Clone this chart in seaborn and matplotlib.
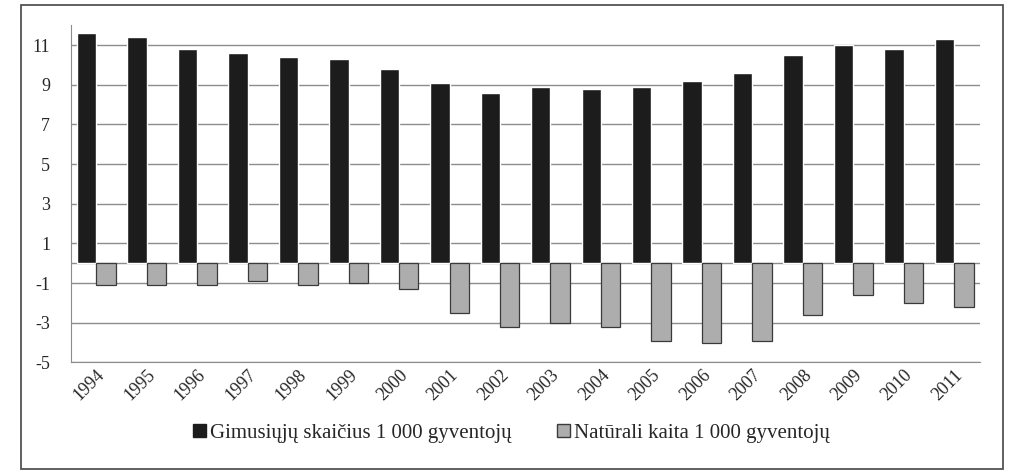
import pandas as pd
import matplotlib.pyplot as plt
import seaborn as sns
from matplotlib.patches import Rectangle, Patch

# Values (per 1 000 inhabitants)
years = [str(y) for y in range(1994, 2012)]
births = [11.6, 11.4, 10.8, 10.6, 10.4, 10.3, 9.8, 9.1, 8.6, 8.9, 8.8, 8.9, 9.2, 9.6, 10.5, 11.0, 10.8, 11.3]
natural_change = [-1.1, -1.1, -1.1, -0.9, -1.1, -1.0, -1.3, -2.5, -3.2, -3.0, -3.2, -3.9, -4.0, -3.9, -2.6, -1.6, -2.0, -2.2]
series_names = ["Gimusiųjų skaičius 1 000 gyventojų", "Natūrali kaita 1 000 gyventojų"]
y_ticks = [-5, -3, -1, 1, 3, 5, 7, 9, 11]

df = pd.DataFrame({
    "Metai": years * 2,
    "Reikšmė": births + natural_change,
    "Rodiklis": [series_names[0]] * len(years) + [series_names[1]] * len(years),
})

sns.set_style("white")
plt.rcParams["font.family"] = ["Liberation Serif", "DejaVu Serif"]

fig = plt.figure(figsize=(10.13, 4.75), dpi=100)
ax = fig.add_axes([0.070, 0.237, 0.897, 0.710])

colors = {series_names[0]: "#1c1c1c", series_names[1]: "#adadad"}
sns.barplot(data=df, x="Metai", y="Reikšmė", hue="Rodiklis", palette=colors,
            width=0.77, ax=ax, legend=False, zorder=3, saturation=1)

# dark outline only on the grey bars
for bar in ax.patches[len(years):]:
    bar.set_edgecolor("#3a3a3a")
    bar.set_linewidth(0.9)

ax.set_ylim(-5, 12)
ax.set_yticks(y_ticks)
ax.set_yticklabels([str(t) for t in y_ticks], fontsize=13)
ax.yaxis.grid(True, color="#8c8c8c", linewidth=1.0, zorder=0)
ax.axhline(0, color="#8c8c8c", linewidth=1.0, zorder=1)
ax.set_axisbelow(True)

ax.tick_params(axis="x", rotation=45, labelsize=13, length=0, pad=3)
for lbl in ax.get_xticklabels():
    lbl.set_ha("right")
    lbl.set_rotation_mode("anchor")
ax.tick_params(axis="y", length=5, width=1, color="#8c8c8c", direction="out", pad=10)

ax.set_xlabel("")
ax.set_ylabel("")
for side in ["top", "right"]:
    ax.spines[side].set_visible(False)
ax.spines["left"].set_color("#8c8c8c")
ax.spines["bottom"].set_color("#8c8c8c")
ax.set_xlim(-0.5, len(years) - 0.5)

handles = [Patch(facecolor=colors[series_names[0]], edgecolor="#1c1c1c"),
           Patch(facecolor=colors[series_names[1]], edgecolor="#3a3a3a")]
fig.legend(handles, series_names, loc="center", bbox_to_anchor=(0.505, 0.088), ncol=2,
           frameon=False, fontsize=15, handlelength=0.6, handleheight=0.6,
           handletextpad=0.2, columnspacing=2.2)

# outer frame around the whole chart
fig.patches.append(Rectangle((0.021, 0.012), 0.969, 0.977, transform=fig.transFigure,
                             fill=False, edgecolor="#444444", linewidth=1.2))

fig.savefig("out.png", dpi=100)
